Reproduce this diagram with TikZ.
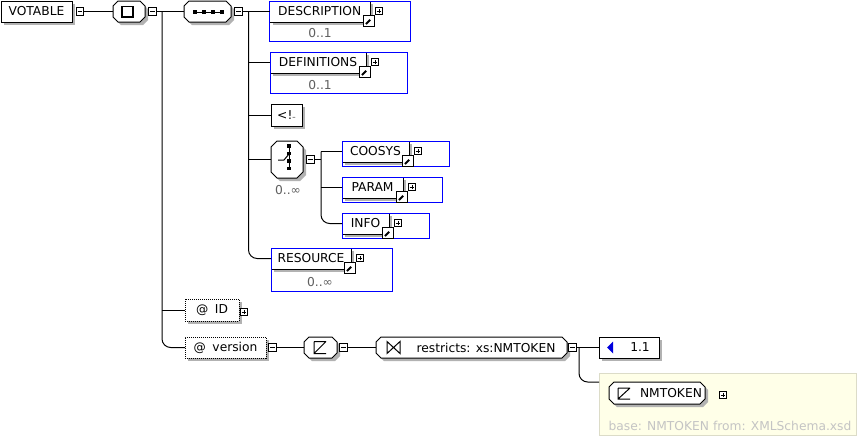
\documentclass[tikz,border=0pt]{standalone}
\usepackage{fontspec}
\setmainfont{DejaVu Sans}
\usetikzlibrary{shadows}
\definecolor{shadowgray}{HTML}{B2B2B2}
\definecolor{occgray}{HTML}{606060}
\definecolor{noteyellow}{HTML}{FFFFE8}
\definecolor{noteborder}{HTML}{DCDCC8}
\definecolor{notetext}{HTML}{C4C4C4}
\definecolor{enumblue}{HTML}{0000DD}
\definecolor{occblue}{HTML}{0000FF}
\newcommand\lbl{\fontsize{9.2}{10}\selectfont}
% box node from pixel corners: style, name, x1, y1, x2, y2, text
\newcommand\bx[7]{\node[#1, minimum width={(#5-#3)*0.75pt}, minimum height={(#6-#4)*0.75pt}] (#2) at ({(#3+#5)/2},{(#4+#6)/2}) {#7};}
\newcommand\octbox[6]{%
  \fill[shadowgray,shift={(3,3)}] ({#2+#6},#3) -- ({#4-#6},#3) -- (#4,{#3+#6}) -- (#4,{#5-#6}) -- ({#4-#6},#5) -- ({#2+#6},#5) -- (#2,{#5-#6}) -- (#2,{#3+#6}) -- cycle;
  \draw[fill=white] ({#2+#6},#3) -- ({#4-#6},#3) -- (#4,{#3+#6}) -- (#4,{#5-#6}) -- ({#4-#6},#5) -- ({#2+#6},#5) -- (#2,{#5-#6}) -- (#2,{#3+#6}) -- cycle;
  \bx{hit}{#1}{#2}{#3}{#4}{#5}{}
}
\tikzset{
  hit/.style={rectangle, inner sep=0pt, outer sep=0pt, draw=none},
  shd/.style={general shadow={fill=shadowgray, shadow xshift=2.25pt, shadow yshift=-2.25pt}},
  elem/.style={rectangle, draw, fill=white, inner sep=0pt, outer sep=0pt, shd},
  occbox/.style={rectangle, draw=occblue, inner sep=0pt, outer sep=0pt},
  attr/.style={elem, dash pattern=on 0.75pt off 0.75pt},
  occtext/.style={text=occgray, inner sep=0pt},
  pmbox/.style={rectangle, draw, fill=white, minimum size=5.6pt, inner sep=0pt, outer sep=0pt},
  minus/.style={pmbox, path picture={\draw[line width=0.6pt] ([xshift=1.1pt]path picture bounding box.west) -- ([xshift=-1.1pt]path picture bounding box.east);}},
  plus/.style={pmbox, path picture={\draw[line width=0.6pt] ([xshift=1.1pt]path picture bounding box.west) -- ([xshift=-1.1pt]path picture bounding box.east) ([yshift=1.1pt]path picture bounding box.south) -- ([yshift=-1.1pt]path picture bounding box.north);}},
  arw/.style={rectangle, draw, fill=white, minimum size=7.8pt, inner sep=0pt, outer sep=0pt,
    path picture={\fill ([shift={(-1.2pt,-1.2pt)}]path picture bounding box.north east) -- ++(-4.2pt,0) -- ++(4.2pt,-4.2pt) -- cycle;
      \draw[line width=1.4pt] ([shift={(1.6pt,1.6pt)}]path picture bounding box.south west) -- ([shift={(-3pt,-3pt)}]path picture bounding box.north east);}},
  notebox/.style={rectangle, draw=noteborder, fill=noteyellow, inner sep=0pt, outer sep=0pt},
  conn/.style={draw=black},
  rbend/.style={rounded corners=6.5pt}
}
\begin{document}
\begin{tikzpicture}[x=0.75pt, y=-0.75pt, line width=0.75pt, font=\lbl]
\fill[white] (0,0) rectangle (857,436);
\useasboundingbox (0,0) rectangle (857,436);

% root element
\bx{elem}{votable}{1}{1}{72}{22}{VOTABLE}
\node[minus] (m1) at (80,11.5) {};

% all compositor
\octbox{all}{113}{1}{145}{22}{5}
\draw[line width=1.1pt] (122,6.5) rectangle (133,17);
\node[minus] (m2) at (152.5,11.5) {};

% sequence compositor
\octbox{seq}{184}{1}{231}{22}{5}
\draw (194,12) -- (222,12);
\foreach \sx in {194.5,203.5,212.5,221.5} \fill (\sx-2,10) rectangle (\sx+2,14);
\node[minus] (m3) at (238.5,11.5) {};

% DESCRIPTION
\bx{elem}{desc}{269.5}{1}{370}{22}{DESCRIPTION}
\bx{occbox}{descocc}{269.5}{1}{410.5}{41.5}{}
\node[arw] (descarw) at (369,21) {};
\node[plus] (descplus) at (379,11) {};
\node[occtext] (descn) at (320,33) {0..1};

% DEFINITIONS
\bx{elem}{defs}{270}{52}{366}{73}{DEFINITIONS}
\bx{occbox}{defsocc}{270}{52}{407}{93}{}
\node[arw] (defsarw) at (365,72) {};
\node[plus] (defsplus) at (375,62) {};
\node[occtext] (defsn) at (320,85) {0..1};

% comment
\bx{elem}{comment}{271}{104}{302}{126}{<!{\fontsize{5}{5}\selectfont --}}

% choice compositor
\octbox{choice}{271}{141}{303}{178}{6}
\draw (289,146) -- (289,169);
\foreach \sy in {146,153.5,161,168.5} \fill (287.2,\sy-1.8) rectangle (290.8,\sy+1.8);
\draw (278,160) -- (284,160) -- (289,154);
\node[minus] (m4) at (310.5,159.5) {};
\node[occtext] (choicen) at (288,190) {0..∞};

% COOSYS
\bx{elem}{coosys}{342}{141}{409}{162}{COOSYS}
\bx{occbox}{coosysocc}{342}{141}{449}{166}{}
\node[arw] (coosysarw) at (408,161) {};
\node[plus] (coosysplus) at (418,151) {};

% PARAM
\bx{elem}{param}{342}{177}{403}{198}{PARAM}
\bx{occbox}{paramocc}{342}{177}{442}{202}{}
\node[arw] (paramarw) at (402,197) {};
\node[plus] (paramplus) at (412,187) {};

% INFO
\bx{elem}{info}{342}{213}{389}{234}{INFO}
\bx{occbox}{infoocc}{342}{213}{429}{238}{}
\node[arw] (infoarw) at (388,233) {};
\node[plus] (infoplus) at (398,223) {};

% RESOURCE
\bx{elem}{resource}{271}{248}{351}{269}{RESOURCE}
\bx{occbox}{resourceocc}{271}{248}{392}{291}{}
\node[arw] (resourcearw) at (350,268) {};
\node[plus] (resourceplus) at (360,258) {};
\node[occtext] (resourcen) at (320,282) {0..∞};

% attributes
\bx{attr}{idattr}{185}{299}{239}{321}{@\hspace{5pt}ID\hspace{6pt}}
\node[plus] (idplus) at (244,312) {};
\bx{attr}{version}{185}{337}{266}{358}{@\hspace{5pt}version}
\node[minus] (m5) at (272.5,347.5) {};

% simple type
\octbox{simple}{304}{337}{337}{358}{5}
\draw (314,341.5) -- (326,341.5) (314,341.5) -- (314,353.5) -- (326,353.5) (314,353.5) -- (326,341.5);
\node[minus] (m6) at (343.5,347.5) {};

% restriction
\octbox{restr}{376}{337}{567}{358}{5}
\draw (387,341.5) -- (387,353.5) -- (400,341.5) -- (400,353.5) -- cycle;
\node[inner sep=0pt] (restrtext) at (486,347.5) {restricts: xs:NMTOKEN};
\node[minus] (m7) at (572.5,347.5) {};

% enumeration
\bx{elem}{enum}{599}{337}{659}{358}{}
\fill[enumblue] (607,347.5) -- (613,341.5) -- (613,353.5) -- cycle;
\node[inner sep=0pt] (enumtext) at (640,347.5) {1.1};

% base type note
\bx{notebox}{note}{599}{373}{856}{435}{}
\octbox{nmtok}{609}{382}{705}{404}{5}
\draw (618,388) -- (630,388) (618,388) -- (618,399) -- (630,399) (618,399) -- (630,388);
\node[inner sep=0pt] (nmtoktext) at (671,393) {NMTOKEN};
\node[plus] (nmtokplus) at (723,395) {};
\node[inner sep=0pt, text=notetext] (basetext) at (730,426) {base: NMTOKEN from: XMLSchema.xsd};

% connectors
\coordinate (bus1) at (162,11.5);
\coordinate (bus2) at (248.5,11.5);
\coordinate (bus3) at (321,151.5);
\coordinate (bus4) at (579,347.5);
\coordinate (noteIn) at (599,382);

\draw[conn] (m1.east) -- (all.west);
\draw[conn] (m2.east) -- (seq.west);
\draw[conn, rbend] (bus1) |- (version.west);
\draw[conn] (bus1 |- idattr.west) -- (idattr.west);

\draw[conn] (m3.east) -- (desc.west);
\draw[conn, rbend] (bus2) |- (resource.west);
\draw[conn] (bus2 |- defs.west) -- (defs.west);
\draw[conn] (bus2 |- comment.west) -- (comment.west);
\draw[conn] (bus2 |- choice.west) -- (choice.west);

\draw[conn] (m4.east) -- (m4.east -| bus3);
\draw[conn] (bus3) -- (coosys.west);
\draw[conn, rbend] (bus3) |- (info.west);
\draw[conn] (bus3 |- param.west) -- (param.west);

\draw[conn] (m5.east) -- (simple.west);
\draw[conn] (m6.east) -- (restr.west);
\draw[conn] (m7.east) -- (enum.west);
\draw[conn, rbend] (bus4) |- (noteIn);
\end{tikzpicture}
\end{document}
